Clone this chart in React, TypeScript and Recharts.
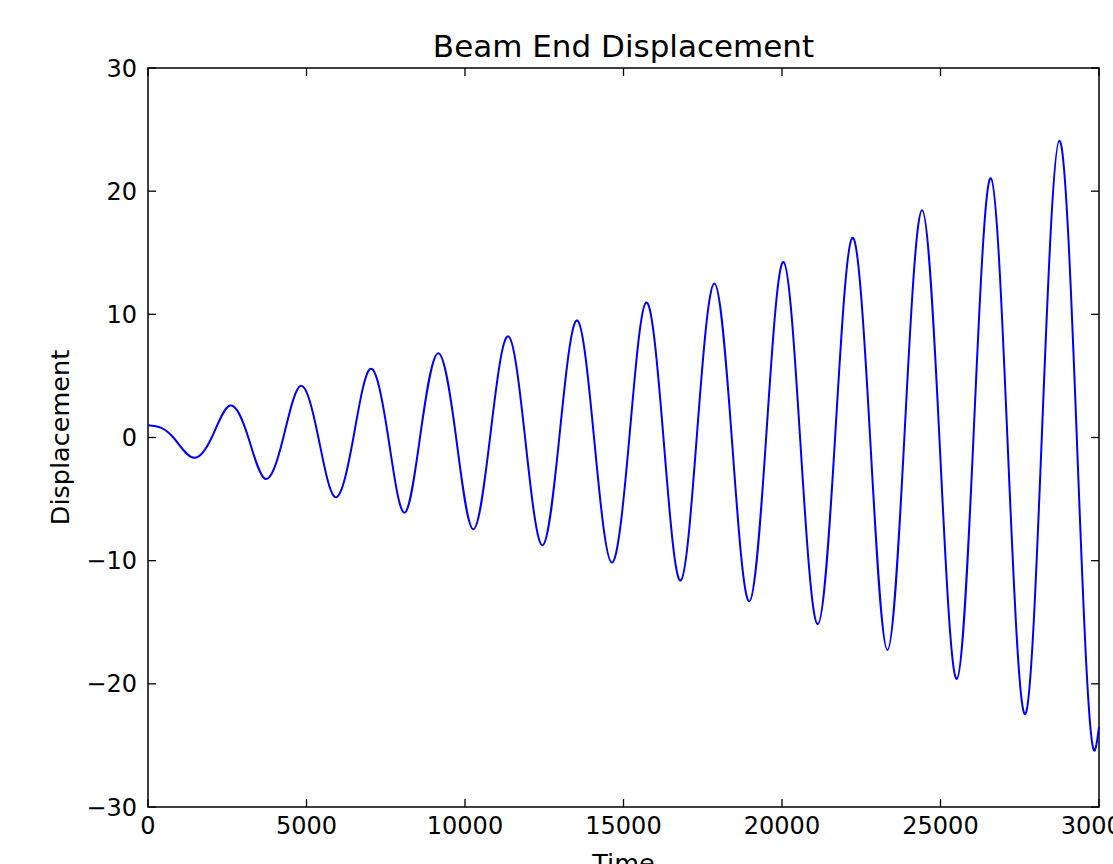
import React from 'react';
import { LineChart, Line, XAxis, YAxis, ReferenceArea, Label } from 'recharts';

// ---- data ----
const TIME = [
  0, 420, 800, 1460, 2010, 2590, 3165, 3690, 4270, 4820, 5375, 5880, 6480, 7000,
  7580, 8100, 8580, 9160, 9720, 10260, 10790, 11380, 11895, 12450, 12975, 13545,
  14070, 14630, 15185, 15710, 16260, 16810, 17310, 17870, 18415, 18970, 19500,
  20050, 20570, 21130, 21675, 22210, 22780, 23325, 23860, 24420, 24965, 25515,
  26040, 26590, 27110, 27690, 28195, 28750, 29300, 29870, 30000,
];
const DISPLACEMENT = [
  1.0, 0.78, 0, -1.65, 0, 2.6, 0, -3.35, 0, 4.2, 0, -4.8, 0, 5.55,
  0, -6.1, 0, 6.85, 0, -7.45, 0, 8.2, 0, -8.75, 0, 9.5,
  0, -10.15, 0, 10.95, 0, -11.6, 0, 12.5, 0, -13.3, 0,
  14.25, 0, -15.15, 0, 16.2, 0, -17.25, 0, 18.45, 0, -19.6,
  0, 21.05, 0, -22.4, 0, 24.1, 0, -25.4, -23.5,
];
const X_TICKS = [0, 5000, 10000, 15000, 20000, 25000, 30000];
const Y_TICKS = [-30, -20, -10, 0, 10, 20, 30];
const X_DOMAIN: [number, number] = [0, 30000];
const Y_DOMAIN: [number, number] = [-30, 30];
const TITLE = 'Beam End Displacement';
const X_LABEL = 'Time';
const Y_LABEL = 'Displacement';

const data = TIME.map((t, i) => ({ t, v: DISPLACEMENT[i] }));

// ---- layout ----
const W = 1113;
const H = 864;
const MARGIN = { top: 68, right: 14, bottom: 0, left: 0 };
const Y_AXIS_W = 148;
const X_AXIS_H = 57;
const PLOT_TOP = MARGIN.top;
const PLOT_BOTTOM = H - X_AXIS_H;
const PLOT_LEFT = Y_AXIS_W;
const PLOT_RIGHT = W - MARGIN.right;
const TICK_LEN = 8;
const FONT = '"DejaVu Sans", "Bitstream Vera Sans", sans-serif';
const TICK_FONT = 24;
const LABEL_FONT = 25.5;
const TITLE_FONT = 31;

const fmt = (v: number) => (v < 0 ? '\u2212' + Math.abs(v) : String(v));

// natural cubic spline of y as a function of x (smooth rendering of the line)
const naturalX: any = (context: any) => {
  let xs: number[] = [];
  let ys: number[] = [];
  let line = NaN;
  return {
    areaStart() { line = 0; },
    areaEnd() { line = NaN; },
    lineStart() { xs = []; ys = []; },
    lineEnd() {
      const n = xs.length;
      if (n) {
        if (line) context.lineTo(xs[0], ys[0]);
        else context.moveTo(xs[0], ys[0]);
        if (n === 2) context.lineTo(xs[1], ys[1]);
        else if (n > 2) {
          const h: number[] = [];
          for (let i = 0; i < n - 1; i++) h.push(xs[i + 1] - xs[i]);
          const a: number[] = new Array(n).fill(0);
          const b: number[] = new Array(n).fill(1);
          const c: number[] = new Array(n).fill(0);
          const d: number[] = new Array(n).fill(0);
          for (let i = 1; i < n - 1; i++) {
            a[i] = h[i - 1];
            b[i] = 2 * (h[i - 1] + h[i]);
            c[i] = h[i];
            d[i] = 6 * ((ys[i + 1] - ys[i]) / h[i] - (ys[i] - ys[i - 1]) / h[i - 1]);
          }
          for (let i = 1; i < n; i++) {
            const m = a[i] / b[i - 1];
            b[i] -= m * c[i - 1];
            d[i] -= m * d[i - 1];
          }
          const M: number[] = new Array(n).fill(0);
          M[n - 1] = d[n - 1] / b[n - 1];
          for (let i = n - 2; i >= 0; i--) M[i] = (d[i] - c[i] * M[i + 1]) / b[i];
          for (let i = 0; i < n - 1; i++) {
            const hi = h[i];
            const sec = (ys[i + 1] - ys[i]) / hi;
            const s0 = sec - (hi * (2 * M[i] + M[i + 1])) / 6;
            const s1 = sec + (hi * (M[i] + 2 * M[i + 1])) / 6;
            context.bezierCurveTo(
              xs[i] + hi / 3, ys[i] + (hi / 3) * s0,
              xs[i + 1] - hi / 3, ys[i + 1] - (hi / 3) * s1,
              xs[i + 1], ys[i + 1],
            );
          }
        }
      }
      if (line || (line !== 0 && n === 1)) context.closePath();
      line = 1 - line;
    },
    point(x: number, y: number) { xs.push(+x); ys.push(+y); },
  };
};

function XTick(props: any) {
  const { x, payload } = props;
  return (
    <g>
      <line x1={x} x2={x} y1={PLOT_BOTTOM} y2={PLOT_BOTTOM - TICK_LEN} stroke="#000" strokeWidth={1.3} />
      <line x1={x} x2={x} y1={PLOT_TOP} y2={PLOT_TOP + TICK_LEN} stroke="#000" strokeWidth={1.3} />
      <text x={x} y={PLOT_BOTTOM + 27} textAnchor="middle" fontSize={TICK_FONT} fontFamily={FONT} fill="#000">
        {fmt(payload.value)}
      </text>
    </g>
  );
}

function YTick(props: any) {
  const { y, payload } = props;
  return (
    <g>
      <line x1={PLOT_LEFT} x2={PLOT_LEFT + TICK_LEN} y1={y} y2={y} stroke="#000" strokeWidth={1.3} />
      <line x1={PLOT_RIGHT} x2={PLOT_RIGHT - TICK_LEN} y1={y} y2={y} stroke="#000" strokeWidth={1.3} />
      <text x={PLOT_LEFT - 11} y={y} dy="0.36em" textAnchor="end" fontSize={TICK_FONT} fontFamily={FONT} fill="#000">
        {fmt(payload.value)}
      </text>
    </g>
  );
}

function XLabel(props: any) {
  const vb = props.viewBox || {};
  return (
    <text x={vb.x + vb.width / 2} y={PLOT_BOTTOM + 65} textAnchor="middle" fontSize={LABEL_FONT} fontFamily={FONT} fill="#000">
      {X_LABEL}
    </text>
  );
}

function YLabel(props: any) {
  const vb = props.viewBox || {};
  const cx = 60;
  const cy = vb.y + vb.height / 2;
  return (
    <text x={cx} y={cy} dy="0.36em" textAnchor="middle" transform={`rotate(-90, ${cx}, ${cy})`} fontSize={LABEL_FONT} fontFamily={FONT} fill="#000">
      {Y_LABEL}
    </text>
  );
}

function TitleLabel(props: any) {
  const vb = props.viewBox || {};
  return (
    <text x={vb.x + vb.width / 2} y={PLOT_TOP - 11} textAnchor="middle" fontSize={TITLE_FONT} fontFamily={FONT} fill="#000">
      {TITLE}
    </text>
  );
}

export default function App() {
  return (
    <div style={{ position: 'absolute', left: 0, top: 0, width: W, height: H, overflow: 'hidden', background: '#fff' }}>
      <LineChart width={W} height={H} data={data} margin={MARGIN}>
        <XAxis
          dataKey="t"
          type="number"
          domain={X_DOMAIN}
          ticks={X_TICKS}
          interval={0}
          height={X_AXIS_H}
          axisLine={false}
          tickLine={false}
          tickSize={0}
          tickMargin={0}
          tick={XTick}
        >
          <Label content={XLabel} />
        </XAxis>
        <YAxis
          type="number"
          domain={Y_DOMAIN}
          ticks={Y_TICKS}
          interval={0}
          width={Y_AXIS_W}
          axisLine={false}
          tickLine={false}
          tickSize={0}
          tickMargin={0}
          tick={YTick}
        >
          <Label content={YLabel} />
        </YAxis>
        <ReferenceArea
          x1={X_DOMAIN[0]}
          x2={X_DOMAIN[1]}
          y1={Y_DOMAIN[0]}
          y2={Y_DOMAIN[1]}
          fill="none"
          fillOpacity={0}
          stroke="#000"
          strokeWidth={1.5}
          label={<Label content={TitleLabel} />}
        />
        <Line
          dataKey="v"
          type={naturalX}
          stroke="#0000ff"
          strokeWidth={2}
          dot={false}
          activeDot={false}
          isAnimationActive={false}
        />
      </LineChart>
    </div>
  );
}
